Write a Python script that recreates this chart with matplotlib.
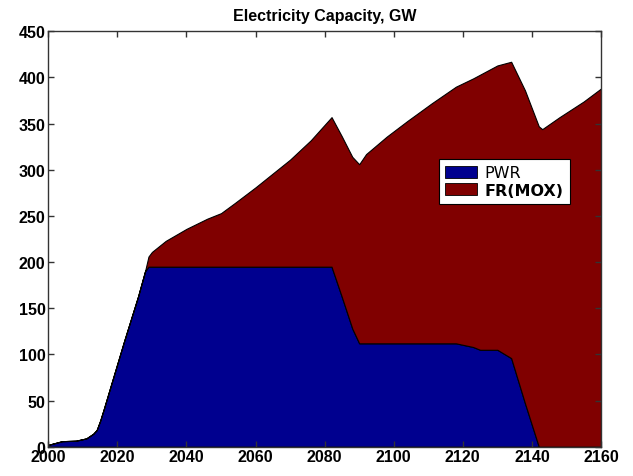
import matplotlib
matplotlib.use("Agg")
import matplotlib.pyplot as plt
from matplotlib.patches import Patch

# Installed capacity by reactor type (GW)
years = [2000, 2002, 2004, 2008, 2011, 2013, 2014, 2015, 2016, 2018, 2022, 2026,
         2028, 2029, 2030, 2034, 2040, 2046, 2050, 2054, 2060, 2066, 2070, 2076,
         2082, 2085, 2088, 2090, 2092, 2098, 2104, 2111, 2118, 2123, 2125, 2130,
         2134, 2138, 2142, 2143, 2148, 2155, 2160]

pwr = [2, 4, 6, 6.5, 9, 14, 18, 28, 40, 65, 115, 163,
       190, 195, 195, 195, 195, 195, 195, 195, 195, 195, 195, 195,
       195, 162, 128, 112, 112, 112, 112, 112, 112, 108, 105, 105,
       96, 47, 0, 0, 0, 0, 0]

fr_mox = [0, 0, 0, 0, 0, 0, 0, 0, 0, 0, 0, 0,
          0, 11, 16, 28, 41, 52, 58, 69, 86, 104, 116, 137,
          162, 174, 186, 194, 205, 224, 241, 260, 278, 291, 298, 308,
          321, 339, 347, 344, 357, 374, 388]

series_labels = ["PWR", "FR(MOX)"]
series_colors = ["#00008F", "#800000"]

x_ticks = list(range(2000, 2161, 20))
y_ticks = list(range(0, 451, 50))

font = ["Liberation Sans", "DejaVu Sans"]

fig = plt.figure(figsize=(6.33, 4.77), dpi=100)
ax = fig.add_axes([0.0763, 0.0614, 0.8731, 0.8709])

ax.stackplot(years, pwr, fr_mox, colors=series_colors,
             edgecolor="black", linewidth=0.8)

ax.set_xlim(2000, 2160)
ax.set_ylim(0, 450)
ax.set_xticks(x_ticks)
ax.set_yticks(y_ticks)
ax.tick_params(direction="in", length=4, width=1, top=True, right=True,
               pad=2, colors="#333333", labelcolor="black")
for lbl in ax.get_xticklabels() + ax.get_yticklabels():
    lbl.set_fontfamily(font)
    lbl.set_fontweight("bold")
    lbl.set_fontsize(11.5)
for sp in ax.spines.values():
    sp.set_linewidth(1.0)
    sp.set_color("#333333")

ax.set_title("Electricity Capacity, GW", fontsize=11.5, fontweight="bold",
             family=font, pad=8)

handles = [Patch(facecolor=c, edgecolor="black", linewidth=0.6)
           for c in series_colors]
leg = ax.legend(handles, series_labels, loc="upper left",
                bbox_to_anchor=(0.707, 0.693), fancybox=False, framealpha=1,
                edgecolor="black", handlelength=2.0, handleheight=0.8,
                labelspacing=0.15, borderpad=0.4, handletextpad=0.45,
                borderaxespad=0, prop={"family": ["DejaVu Sans"], "size": 11.5})
leg.get_frame().set_linewidth(0.8)
texts = leg.get_texts()
texts[1].set_fontweight("bold")

fig.savefig("out.png", dpi=100)
